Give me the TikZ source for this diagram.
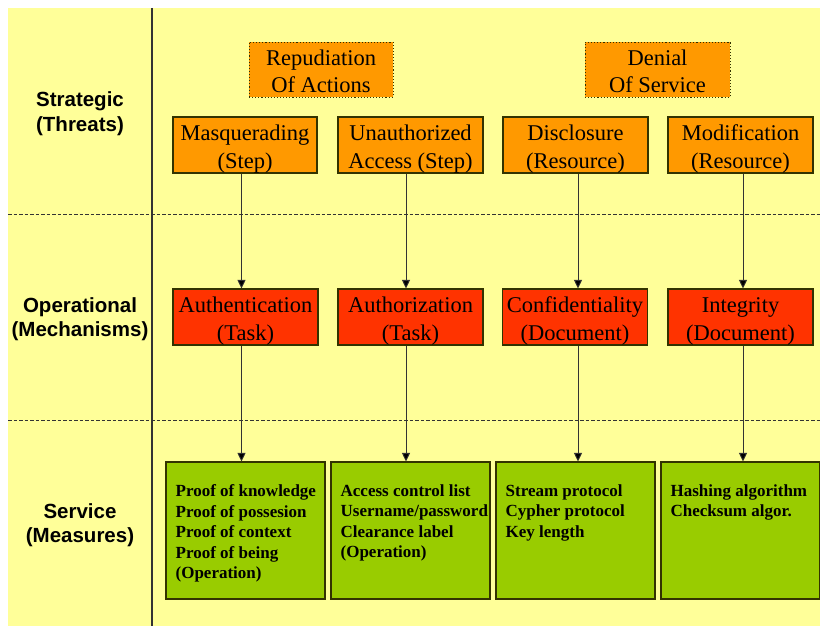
\documentclass[tikz,border=0pt]{standalone}
\usepackage{fontspec}
\setmainfont{Liberation Serif}
\newfontfamily\lsans{Liberation Sans}
\usetikzlibrary{arrows.meta}
\definecolor{bgy}{HTML}{FFFF99}
\definecolor{orng}{HTML}{FF9900}
\definecolor{rred}{HTML}{FF3300}
\definecolor{grn}{HTML}{99CC00}
\definecolor{edge}{HTML}{333300}
\definecolor{lin}{HTML}{333333}
\newcommand{\twoline}[2]{\raisebox{-4pt}[\height][\depth]{\begin{tabular}{@{}c@{}}#1\\#2\end{tabular}}}
\tikzset{
  boxbase/.style={draw=edge, line width=1.1pt, inner sep=0pt,
    font=\fontsize{22.5}{27.5}\selectfont},
  threat/.style={boxbase, fill=orng, minimum width=145pt, minimum height=56pt},
  topthreat/.style={threat, dotted, draw=edge, line width=0.9pt, minimum height=55pt},
  mech/.style={boxbase, fill=rred, minimum width=145pt, minimum height=56pt},
  gbox/.style={draw=edge, line width=1.1pt, fill=grn, minimum width=159pt, minimum height=137pt, inner sep=0pt},
  gtext/.style={anchor=north west, inner sep=0pt, align=left,
    font=\fontsize{17}{20.5}\selectfont\bfseries},
  rowlabel/.style={align=center, inner sep=0pt, font=\lsans\bfseries\fontsize{20.5}{24.5}\selectfont},
  arr/.style={draw=lin, line width=0.9pt, -{Triangle[length=8.5pt,width=8pt,fill=black]}},
  sep/.style={draw=lin, line width=0.9pt, dash pattern=on 3.5pt off 2pt},
}
\begin{document}
\begin{tikzpicture}[x=1pt,y=-1pt]
\useasboundingbox (0,0) rectangle (820,626);
\fill[bgy] (8,8) rectangle (820,626);
% separators
\coordinate (v1) at (152,8);
\coordinate (v2) at (152,626);
\draw[lin, line width=1.1pt] (v1) -- (v2);
\coordinate (d1a) at (8,214);
\coordinate (d1b) at (820,214);
\coordinate (d2a) at (8,420);
\coordinate (d2b) at (820,420);
\draw[sep] (d1a) -- (d1b);
\draw[sep] (d2a) -- (d2b);
% row labels
\node[rowlabel] (lab1) at (80,113.5) {Strategic\\(Threats)};
\node[rowlabel] (lab2) at (80,319) {Operational\\(Mechanisms)};
\node[rowlabel] (lab3) at (80,525) {Service\\(Measures)};
% strategic
\node[topthreat, minimum width=144pt] (rep) at (321,69.5) {\twoline{Repudiation}{Of Actions}};
\node[topthreat] (den) at (657.5,69.5) {\twoline{Denial}{Of Service}};
\node[threat, minimum width=144pt] (mas) at (245,145) {\twoline{Masquerading}{(Step)}};
\node[threat] (una) at (410.5,145) {\twoline{Unauthorized}{Access (Step)}};
\node[threat] (dis) at (575.5,145) {\twoline{Disclosure}{(Resource)}};
\node[threat] (mod) at (740.5,145) {\twoline{Modification}{(Resource)}};
% operational
\node[mech] (aut) at (245.5,317) {\twoline{Authentication}{(Task)}};
\node[mech] (azn) at (410.5,317) {\twoline{Authorization}{(Task)}};
\node[mech] (con) at (575,317) {\twoline{Confidentiality}{(Document)}};
\node[mech] (int) at (740.5,317) {\twoline{Integrity}{(Document)}};
% service
\node[gbox] (g1) at (245.5,530.5) {};
\node[gbox] (g2) at (410.5,530.5) {};
\node[gbox] (g3) at (575.5,530.5) {};
\node[gbox] (g4) at (740.5,530.5) {};
\node[gtext] (t1) at ([xshift=10pt,yshift=-23pt]g1.north west) {Proof of knowledge\\Proof of possesion\\Proof of context\\Proof of being\\(Operation)};
\node[gtext] (t2) at ([xshift=10pt,yshift=-23pt]g2.north west) {Access control list\\Username/password\\Clearance label\\(Operation)};
\node[gtext] (t3) at ([xshift=10pt,yshift=-23pt]g3.north west) {Stream protocol\\Cypher protocol\\Key length};
\node[gtext] (t4) at ([xshift=10pt,yshift=-23pt]g4.north west) {Hashing algorithm\\Checksum algor.};
% arrows
\draw[arr] ([xshift=-3.5pt]mas.south) -- ([xshift=-4pt]aut.north);
\draw[arr] ([xshift=-4.5pt]una.south) -- ([xshift=-4.5pt]azn.north);
\draw[arr] ([xshift=2.5pt]dis.south) -- ([xshift=3pt]con.north);
\draw[arr] ([xshift=2.5pt]mod.south) -- ([xshift=2.5pt]int.north);
\draw[arr] ([xshift=-4pt]aut.south) -- ([xshift=-4pt]g1.north);
\draw[arr] ([xshift=-4.5pt]azn.south) -- ([xshift=-4.5pt]g2.north);
\draw[arr] ([xshift=3pt]con.south) -- ([xshift=2.5pt]g3.north);
\draw[arr] ([xshift=2.5pt]int.south) -- ([xshift=2.5pt]g4.north);
\end{tikzpicture}
\end{document}
